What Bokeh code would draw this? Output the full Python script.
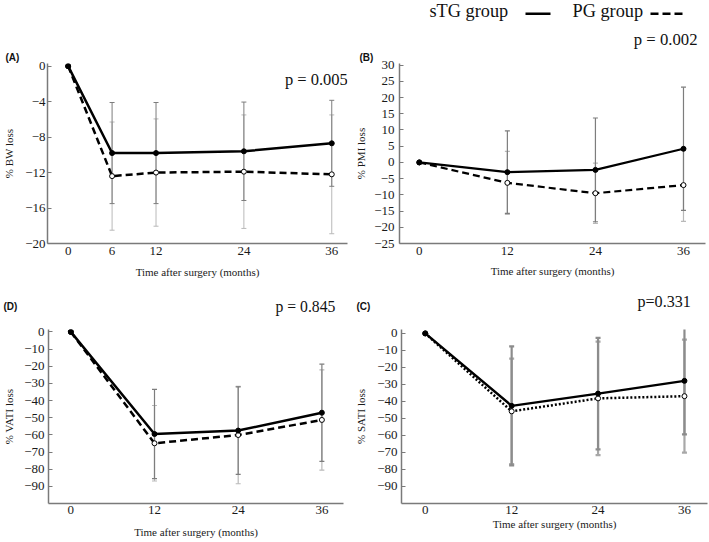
from bokeh.plotting import figure
from bokeh.layouts import column, row
from bokeh.models import (Range1d, FixedTicker, Label, Whisker, TeeHead, ColumnDataSource,
                          Arrow, Title)
from bokeh.embed import file_html
from bokeh.resources import INLINE

# ---------------- data ----------------
months_bw = [0, 6, 12, 24, 36]
bw_stg = [0, -9.8, -9.8, -9.6, -8.7]
bw_stg_sd = [0, 5.7, 5.7, 5.55, 4.85]
bw_pg = [0, -12.4, -12.0, -11.9, -12.2]
bw_pg_sd = [0, 6.1, 6.05, 6.4, 6.7]

months = [0, 12, 24, 36]
pmi_stg = [0, -3.0, -2.3, 4.2]
pmi_stg_sd = [0, 12.7, 16.0, 19.0]
pmi_pg = [0, -6.3, -9.5, -7.0]
pmi_pg_sd = [0, 9.7, 9.3, 11.2]

vati_stg = [0, -59.5, -57.5, -47.1]
vati_stg_sd = [0, 26.0, 25.5, 28.3]
vati_pg = [0, -64.9, -60.1, -51.3]
vati_pg_sd = [0, 22.0, 28.4, 29.2]

sati_stg = [0, -42.6, -35.4, -27.9]
sati_stg_sd = [0, 35.0, 32.8, 31.5]
sati_pg = [0, -45.8, -38.2, -36.9]
sati_pg_sd = [0, 31.0, 33.4, 33.2]

ticks_bw_y = [0, -4, -8, -12, -16, -20]
ticks_pmi_y = [30, 25, 20, 15, 10, 5, 0, -5, -10, -15, -20, -25]
ticks_fat_y = [0, -10, -20, -30, -40, -50, -60, -70, -80, -90]

group_names = ["sTG group", "PG group"]
p_values = {"A": "p = 0.005", "B": "p = 0.002", "D": "p = 0.845", "C": "p=0.331"}

# ---------------- helpers ----------------
SERIF = "Liberation Serif"
SANS = "Liberation Sans"


def panel(ox, oy, w, h, rf, xr, yr):
    L, R, T, B = rf
    left = round(L - ox)
    right = w - round(R - ox)
    top = round(T - oy)
    bottom = h - round(B - oy)
    p = figure(width=w, height=h, x_range=Range1d(*xr), y_range=Range1d(*yr),
               output_backend="svg", toolbar_location=None, title=None,
               min_border_left=left, min_border_right=right,
               min_border_top=top, min_border_bottom=bottom)
    p.xgrid.visible = False
    p.ygrid.visible = False
    p.outline_line_color = None
    info = dict(ox=ox, oy=oy, fl=left, fr=w - right, ft=top, fb=h - bottom, xr=xr, yr=yr)
    return p, info


def header(w, h):
    p = figure(width=w, height=h, x_range=Range1d(0, w), y_range=Range1d(h, 0),
               output_backend="svg", toolbar_location=None, title=None,
               x_axis_type=None, y_axis_type=None,
               min_border_left=0, min_border_right=0, min_border_top=0, min_border_bottom=0)
    p.outline_line_color = None
    return p


def ref_to_data(info, rx, ry):
    cx = rx - info["ox"]
    cy = ry - info["oy"]
    x0, x1 = info["xr"]
    y0, y1 = info["yr"]
    dx = x0 + (cx - info["fl"]) / (info["fr"] - info["fl"]) * (x1 - x0)
    dy = y1 - (cy - info["ft"]) / (info["fb"] - info["ft"]) * (y1 - y0)
    return dx, dy


def add_text(p, info, rx, ry, text, size, font=SERIF, style="normal"):
    x, y = ref_to_data(info, rx, ry)
    p.add_layout(Label(x=x, y=y, text=text, text_font=font, text_font_size=size,
                       text_font_style=style, text_align="left", text_baseline="middle",
                       text_color="#111111"))


def hdr_text(hp, oy, rx, ry, text, size, font=SERIF, style="normal"):
    hp.add_layout(Label(x=rx, y=ry - oy, text=text, text_font=font,
                        text_font_size=size, text_font_style=style, text_align="left",
                        text_baseline="middle", text_color="#111111"))


def hdr_line(hp, oy, rx0, rx1, ry, dash):
    hp.add_layout(Arrow(x_start=rx0, y_start=ry - oy, x_end=rx1, y_end=ry - oy,
                        start=None, end=None, line_color="black", line_width=2.6,
                        line_dash=dash))


def add_title(p, text, align, offset, standoff, size, font=SERIF, style="normal"):
    p.add_layout(Title(text=text, align=align, offset=offset, standoff=standoff,
                       text_font=font, text_font_size=size, text_font_style=style,
                       text_color="#111111"), "above")


def style_axes(p, xticks, yticks, ylabel, xl_standoff, xt_standoff, yl_standoff, yt_standoff):
    for ax in p.axis:
        ax.axis_line_color = "#7a7a7a"
        ax.axis_line_width = 1.5
        ax.minor_tick_line_color = None
        ax.major_label_text_font = SERIF
        ax.major_label_text_font_size = "13px"
        ax.major_label_text_color = "#1a1a1a"
        ax.axis_label_text_font = SERIF
        ax.axis_label_text_font_size = "11px"
        ax.axis_label_text_font_style = "normal"
        ax.axis_label_text_color = "#1a1a1a"
    xa = p.xaxis[0]
    xa.ticker = FixedTicker(ticks=xticks)
    xa.major_tick_line_color = None
    xa.major_tick_in = 0
    xa.major_tick_out = 0
    xa.major_label_standoff = xt_standoff
    xa.axis_label = "Time after surgery (months)"
    xa.axis_label_standoff = xl_standoff
    ya = p.yaxis[0]
    ya.ticker = FixedTicker(ticks=yticks)
    ya.major_tick_in = 4
    ya.major_tick_out = 0
    ya.major_tick_line_color = "#7a7a7a"
    ya.major_tick_line_width = 1
    ya.major_label_standoff = yt_standoff
    ya.major_label_overrides = {t: str(t).replace("-", "\u2212") for t in yticks}
    ya.axis_label = ylabel
    ya.axis_label_standoff = yl_standoff


def series(p, x, y, sd, bar_color, bar_width, dash, filled, lw):
    xs = x[1:]
    up = [m + s for m, s in zip(y[1:], sd[1:])]
    lo = [m - s for m, s in zip(y[1:], sd[1:])]
    src = ColumnDataSource(dict(x=xs, upper=up, lower=lo))
    wk = Whisker(source=src, base="x", upper="upper", lower="lower",
                 line_color=bar_color, line_width=bar_width,
                 upper_head=TeeHead(size=5, line_color=bar_color, line_width=bar_width),
                 lower_head=TeeHead(size=5, line_color=bar_color, line_width=bar_width),
                 level="underlay")
    p.add_layout(wk)
    p.line(x, y, line_color="black", line_width=lw, line_dash=dash)
    p.scatter(x, y, marker="circle", size=5, line_color="black", line_width=1,
              fill_color="black" if filled else "white")


DARK = "#7d7d7d"
LIGHT = "#b9b9b9"

# ---------------- header 1: legend ----------------
H1_OY = 0
h1 = header(708, 25)
hdr_text(h1, H1_OY, 429, 10.5, group_names[0], "18.3px")
hdr_line(h1, H1_OY, 525, 550, 13.3, "solid")
hdr_text(h1, H1_OY, 572, 10.5, group_names[1], "18.3px")
hdr_line(h1, H1_OY, 650, 685, 13.3, "8 4")

# ---------------- panel A ----------------
pA, iA = panel(0, 25, 352, 263, (45, 347, 63, 245), (-2.82, 38.15), (-20, 0.3))
style_axes(pA, months_bw, ticks_bw_y, "% BW loss", 8, 3, 7, 2)
series(pA, months_bw, bw_pg, bw_pg_sd, LIGHT, 1, "7 4", False, 2.5)
series(pA, months_bw, bw_stg, bw_stg_sd, DARK, 1, "solid", True, 2.5)
add_text(pA, iA, 284, 79, p_values["A"], "16.5px")
add_title(pA, "(A)", "left", -42, 2, "10px", SANS, "bold")

# ---------------- panel B ----------------
pB, iB = panel(352, 25, 356, 263, (394.3, 705, 63, 243.3), (-2.7, 39.0), (-25, 30.5))
style_axes(pB, months, ticks_pmi_y, "% PMI loss", 7, 3, 4, 5)
series(pB, months, pmi_pg, pmi_pg_sd, LIGHT, 1.2, "7 4", False, 2.2)
series(pB, months, pmi_stg, pmi_stg_sd, DARK, 1.2, "solid", True, 2.2)
add_title(pB, "(B)", "left", -40, 2, "10px", SANS, "bold")
add_title(pB, p_values["B"], "right", 8, 0, "16.7px")

# ---------------- header 2: (D), (C), p-values ----------------
H2_OY = 288
h2 = header(708, 30)
hdr_text(h2, H2_OY, 3, 305.5, "(D)", "10px", SANS, "bold")
hdr_text(h2, H2_OY, 275, 305.5, p_values["D"], "15.7px")
hdr_text(h2, H2_OY, 356, 305.5, "(C)", "10px", SANS, "bold")
hdr_text(h2, H2_OY, 637, 300.5, p_values["C"], "16.1px")

# ---------------- panel D ----------------
pD, iD = panel(0, 318, 352, 223, (42.3, 343.3, 329.3, 504.3), (-3.2, 39.1), (-100, 1.4))
style_axes(pD, months, ticks_fat_y, "% VATI loss", 9, 2, 6, 4)
series(pD, months, vati_pg, vati_pg_sd, LIGHT, 1.2, "7 4", False, 2.5)
series(pD, months, vati_stg, vati_stg_sd, DARK, 1.2, "solid", True, 2.5)

# ---------------- panel C ----------------
pC, iC = panel(352, 318, 356, 223, (396.7, 706.7, 323.3, 503.3), (-3.3, 39.2), (-100, 2.3))
style_axes(pC, months, ticks_fat_y, "% SATI loss", 1, 2, 7, 4)
series(pC, months, sati_pg, sati_pg_sd, "#a8a8a8", 2.2, "2 2", False, 2.5)
series(pC, months, sati_stg, sati_stg_sd, "#8c8c8c", 2.2, "solid", True, 2.5)

layout = column(h1, row(pA, pB), h2, row(pD, pC))
open("out.html", "w").write(file_html(layout, INLINE))
